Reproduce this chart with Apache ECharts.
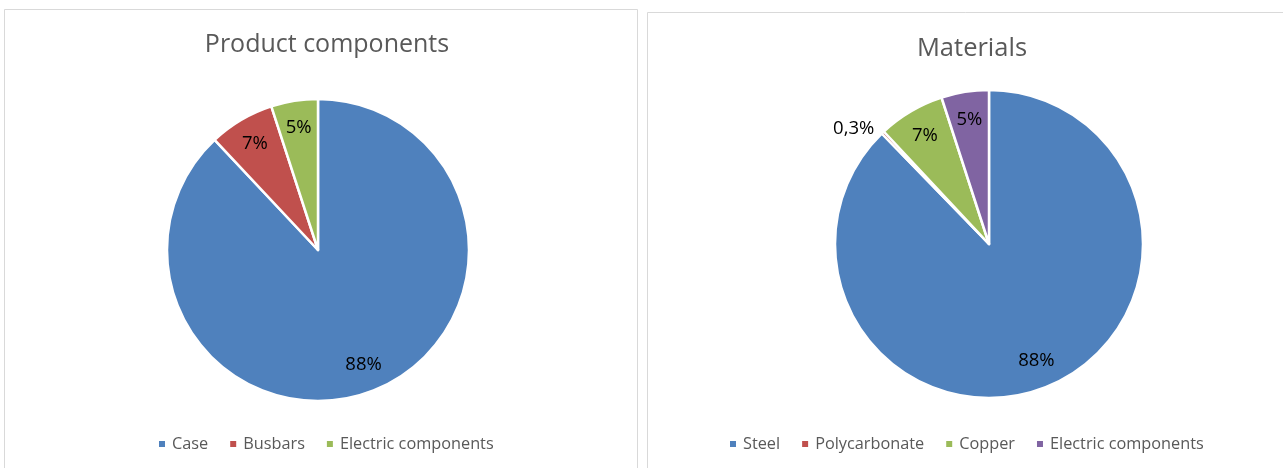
<!DOCTYPE html>
<html>
<head>
<meta charset="utf-8">
<script src="https://cdn.jsdelivr.net/npm/echarts@6/dist/echarts.min.js"></script>
<style>
html,body{margin:0;padding:0;background:#fff;}
#c{width:1283px;height:468px;}
</style>
</head>
<body>
<div id="c"></div>
<script>
// ---- data ----
const titleLeft = 'Product components';
const categoriesLeft = ['Case', 'Busbars', 'Electric components'];
const valuesLeft = [88, 7, 5];

const titleRight = 'Materials';
const categoriesRight = ['Steel', 'Polycarbonate', 'Copper', 'Electric components'];
const valuesRight = [88, 0.3, 7, 5];

const colorsLeft = ['#4F81BD', '#C0504D', '#9BBB59'];
const colorsRight = ['#4F81BD', '#C0504D', '#9BBB59', '#8064A2'];

const FONT = '"Open Sans", "Liberation Sans", sans-serif';
const LABEL_SIZE = 18.5;
const fmt = v => String(v).replace('.', ',') + '%';

function pieSeries(cats, vals, colors, center, radius, outsideNames) {
  const base = cats.map((n, i) => ({ name: n, value: vals[i], color: colors[i], outside: outsideNames.includes(n) }));
  const main = {
    type: 'pie',
    center: center,
    radius: radius,
    startAngle: 90,
    clockwise: true,
    avoidLabelOverlap: false,
    itemStyle: { borderColor: '#fff', borderWidth: 2.5 },
    label: { show: false },
    labelLine: { show: false },
    emphasis: { disabled: true },
    data: base.map(d => d.outside ? {
      name: d.name, value: d.value, itemStyle: { color: d.color },
      label: { show: true, position: 'outside', formatter: p => fmt(p.value),
               fontFamily: FONT, fontSize: LABEL_SIZE, color: '#000' },
      labelLine: { show: false, length: 5, length2: 0 }
    } : { name: d.name, value: d.value, itemStyle: { color: d.color } })
  };
  const labels = {
    type: 'pie',
    center: center,
    radius: [radius * 0.6, radius],
    startAngle: 90,
    clockwise: true,
    silent: true,
    legendHoverLink: false,
    avoidLabelOverlap: false,
    itemStyle: { color: 'rgba(0,0,0,0)', borderWidth: 0 },
    label: { show: true, position: 'inside', formatter: p => fmt(p.value),
             fontFamily: FONT, fontSize: LABEL_SIZE, color: '#000' },
    labelLine: { show: false },
    emphasis: { disabled: true },
    tooltip: { show: false },
    data: base.map(d => d.outside ? { name: d.name + ' ', value: d.value, label: { show: false } }
                                   : { name: d.name + ' ', value: d.value })
  };
  return [main, labels];
}

function legendFor(cats, colors, left) {
  return {
    data: cats.map((n, i) => ({ name: n, itemStyle: { color: colors[i] } })),
    left: left, top: 431, icon: 'rect', itemWidth: 8, itemHeight: 8,
    itemGap: 20, selectedMode: false,
    textStyle: { fontFamily: FONT, fontSize: 16.3, color: '#595959', padding: [0, 0, 0, 1] }
  };
}

const chart = echarts.init(document.getElementById('c'), null, { renderer: 'canvas' });
chart.setOption({
  animation: false,
  backgroundColor: '#fff',
  graphic: [
    { type: 'rect', shape: { x: 4.5, y: 9.5, width: 633, height: 470 },
      style: { fill: 'none', stroke: '#D9D9D9', lineWidth: 1 }, z: -1 },
    { type: 'rect', shape: { x: 647.5, y: 12.5, width: 640, height: 470 },
      style: { fill: 'none', stroke: '#D9D9D9', lineWidth: 1 }, z: -1 }
  ],
  title: [
    { text: titleLeft, left: 322, top: 27, textAlign: 'center',
      textStyle: { fontFamily: FONT, fontSize: 25, fontWeight: 'normal', color: '#595959' } },
    { text: titleRight, left: 967, top: 31, textAlign: 'center',
      textStyle: { fontFamily: FONT, fontSize: 25.5, fontWeight: 'normal', color: '#595959' } }
  ],
  legend: [
    legendFor(categoriesLeft, colorsLeft, 152),
    legendFor(categoriesRight, colorsRight, 723)
  ],
  series: [
    ...pieSeries(categoriesLeft, valuesLeft, colorsLeft, [318, 250], 151, []),
    ...pieSeries(categoriesRight, valuesRight, colorsRight, [989, 244], 154, ['Polycarbonate'])
  ]
});
</script>
</body>
</html>
